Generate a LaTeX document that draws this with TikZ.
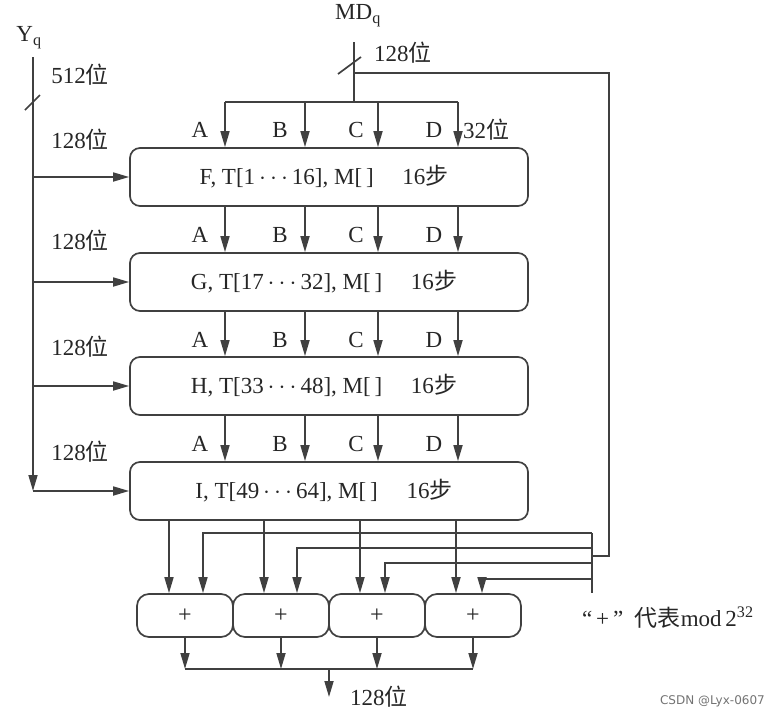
\documentclass[tikz,border=0pt]{standalone}
\usepackage{fontspec}
\setmainfont{Liberation Serif}
\newfontfamily\cjk{Noto Sans CJK SC}
\newfontfamily\wmfont{DejaVu Sans}
\usetikzlibrary{arrows.meta}
\newcommand\wei{{\cjk 位}}
\newcommand\bu{{\cjk 步}}
\newcommand\dd{\,$\cdots$\,}
\begin{document}
\begin{tikzpicture}[x=1pt,y=-1pt,
  ln/.style={draw=black!75, line width=1.7pt},
  arr/.style={ln, -{Triangle[length=16pt,width=9pt]}},
  bigbox/.style={draw=black!75, line width=1.7pt, rounded corners=10pt, minimum width=398pt, minimum height=58pt, inner sep=0pt, text=black!85, font=\fontsize{23}{26}\selectfont},
  plusbox/.style={draw=black!75, line width=1.7pt, rounded corners=12pt, minimum width=96pt, minimum height=43pt, inner sep=0pt, text=black!85, font=\fontsize{24}{26}\selectfont},
  lbl/.style={text=black!85, font=\fontsize{23}{26}\selectfont, inner sep=0pt}]
\useasboundingbox (0,0) rectangle (780,718);

% main boxes
\node[bigbox] (F) at (329,177) {\hspace*{-10pt}F, T[1\dd16], M[\,]\quad\ 16\bu};
\node[bigbox] (G) at (329,282) {\hspace*{-10pt}G, T[17\dd32], M[\,]\quad\ 16\bu};
\node[bigbox] (H) at (329,386) {\hspace*{-10pt}H, T[33\dd48], M[\,]\quad\ 16\bu};
\node[bigbox] (I) at (329,491) {\hspace*{-10pt}I, T[49\dd64], M[\,]\quad\ 16\bu};

% plus boxes
\node[plusbox] (P1) at (185,615.5) {+};
\node[plusbox] (P2) at (281,615.5) {+};
\node[plusbox] (P3) at (377,615.5) {+};
\node[plusbox] (P4) at (473,615.5) {+};

% column coordinates
\coordinate (cA) at (225,102);
\coordinate (cB) at (305,102);
\coordinate (cC) at (378,102);
\coordinate (cD) at (458,102);

% MDq input
\node[lbl] (MD) at (358,16) {MD$_{\mathrm{q}}$};
\coordinate (mdtop) at (354,42);
\coordinate (mdsplit) at (354,73);
\coordinate (mdbar) at (354,102);
\coordinate (rtop) at (609,73);
\coordinate (rbot) at (609,556);
\coordinate (fbtop) at (592,533);
\coordinate (fbbot) at (592,593);
\draw[ln] (mdtop) -- (mdbar);
\draw[ln] (338,74) -- (361,57);
\node[lbl, anchor=west] (l128md) at (374,53) {128\wei};
\draw[ln] (mdsplit) -- (rtop) -- (rbot) -- (rbot -| fbtop);
\draw[ln] (fbtop) -- (fbbot);
\draw[ln] (cA) -- (cD);
\foreach \c in {cA,cB,cC,cD} \draw[arr] (\c) -- (F.north -| \c);
\node[lbl, anchor=west] (l32) at (463,130) {32\wei};

% between boxes
\foreach \u/\d in {F/G,G/H,H/I}
  \foreach \c in {cA,cB,cC,cD} \draw[arr] (\u.south -| \c) -- (\d.north -| \c);

% ABCD labels
\foreach \b/\yy in {F/130,G/235,H/340,I/444}{
  \node[lbl] (A\b) at (200,\yy) {A};
  \node[lbl] (B\b) at (280,\yy) {B};
  \node[lbl] (C\b) at (356,\yy) {C};
  \node[lbl] (D\b) at (434,\yy) {D};
}

% Yq input
\node[lbl] (Y) at (29,38) {Y$_{\mathrm{q}}$};
\coordinate (ytop) at (33,57);
\draw[arr] (ytop) -- (I.west -| ytop) ;
\draw[ln] (25,110) -- (40,95);
\node[lbl] (l512) at (80,75) {512\wei};
\foreach \b/\yy in {F/140,G/241,H/347,I/452}{
  \draw[arr] (\b.west -| ytop) -- (\b.west);
  \node[lbl] (w\b) at (80,\yy) {128\wei};
}

% outputs of I to plus boxes
\coordinate (o1) at (169,520);
\coordinate (o2) at (264,520);
\coordinate (o3) at (360,520);
\coordinate (o4) at (456,520);
\draw[arr] (I.south -| o1) -- (P1.north -| o1);
\draw[arr] (I.south -| o2) -- (P2.north -| o2);
\draw[arr] (I.south -| o3) -- (P3.north -| o3);
\draw[arr] (I.south -| o4) -- (P4.north -| o4);

% feedback lines
\coordinate (f1) at (203,533);
\coordinate (f2) at (297,548);
\coordinate (f3) at (385,563);
\coordinate (f4) at (482,579);
\draw[arr] (f1 -| fbtop) -- (f1) -- (P1.north -| f1);
\draw[arr] (f2 -| fbtop) -- (f2) -- (P2.north -| f2);
\draw[arr] (f3 -| fbtop) -- (f3) -- (P3.north -| f3);
\draw[arr] (f4 -| fbtop) -- (f4) -- (P4.north -| f4);

% outputs of plus boxes
\coordinate (sum) at (329,669);
\coordinate (out) at (329,697);
\foreach \p in {P1,P2,P3,P4} \draw[arr] (\p.south) -- (\p.south |- sum);
\draw[ln] (P1.south |- sum) -- (P4.south |- sum);
\draw[arr] (sum) -- (out);
\node[lbl, anchor=west] (l128out) at (350,697) {128\wei};

\node[lbl, anchor=west] (note) at (582,618) {“\,+\,”\enspace{\cjk 代表}mod\,2\textsuperscript{32}};
\node[text=black!55, font=\wmfont\fontsize{12}{14}\selectfont, anchor=east, inner sep=0pt] (wm) at (765,701) {CSDN @Lyx-0607};
\end{tikzpicture}
\end{document}
